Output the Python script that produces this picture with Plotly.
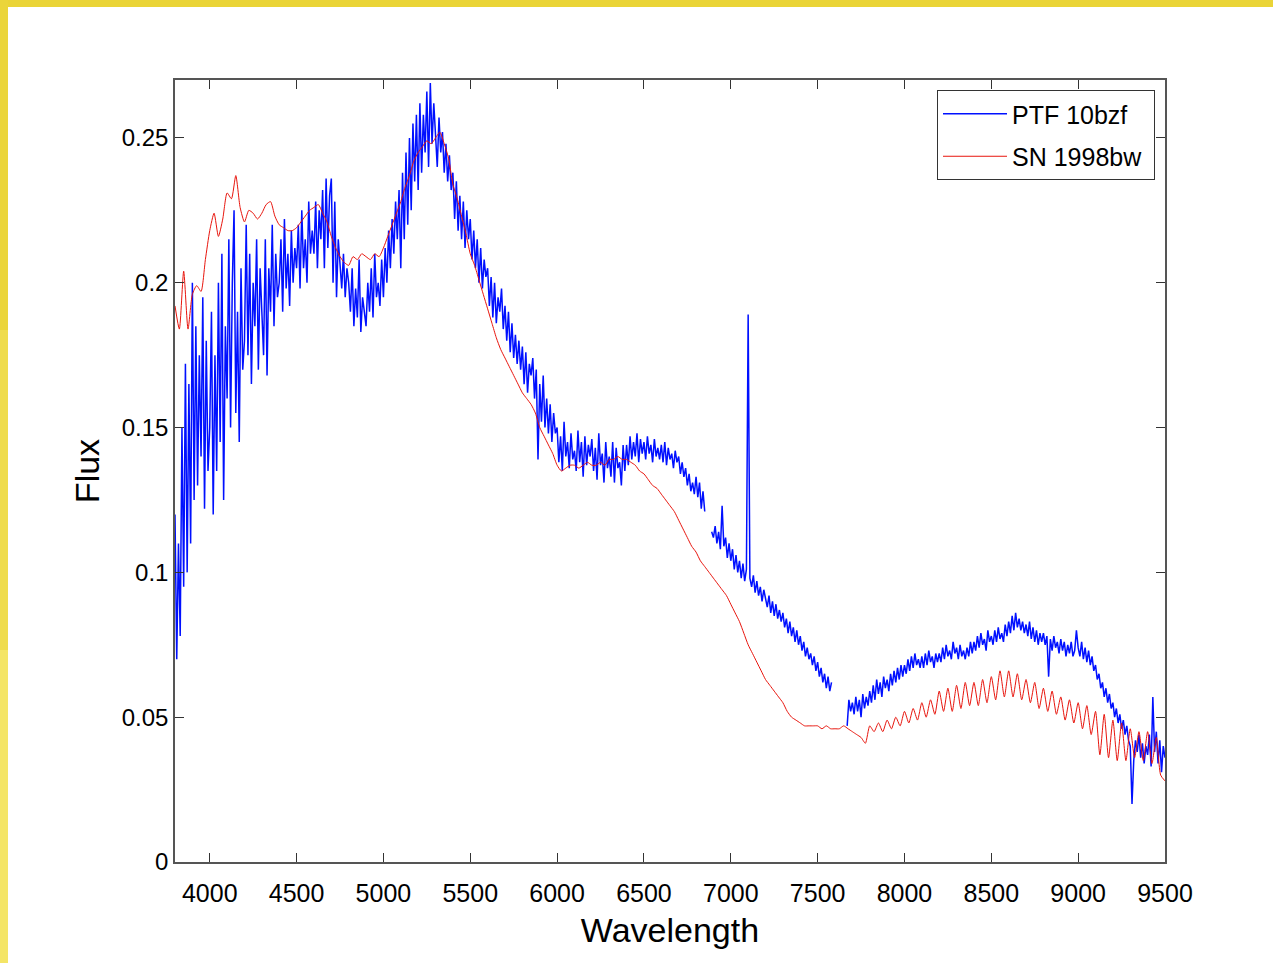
import numpy as np
import plotly.graph_objects as go

# ---------------- data (flux in units of 1e-3) ----------------
# PTF 10bzf, sampled every 10 A from 3800 to 9500 (one row = 100 A)
ptf_rows = [
    [120, 70, 110, 78, 150, 95, 172, 100, 165, 110],      # 3800
    [200, 125, 185, 130, 175, 140, 195, 122, 180, 135],   # 3900
    [150, 190, 120, 175, 135, 200, 145, 210, 125, 185],   # 4000
    [160, 215, 150, 200, 225, 155, 190, 145, 205, 170],   # 4100
    [180, 220, 175, 210, 165, 200, 185, 215, 170, 205],   # 4200
    [190, 175, 215, 168, 205, 190, 220, 185, 210, 195],   # 4300
    [200, 215, 190, 222, 198, 210, 192, 218, 200, 212],   # 4400
    [205, 220, 198, 225, 205, 215, 200, 228, 210, 218],   # 4500
    [210, 228, 205, 225, 215, 232, 205, 236, 212, 230],   # 4600
    [236, 200, 228, 195, 215, 205, 198, 210, 195, 205],   # 4700
    [200, 190, 205, 185, 198, 188, 208, 183, 195, 190],   # 4800
    [185, 200, 190, 205, 188, 210, 195, 200, 192, 208],   # 4900
    [195, 212, 200, 218, 205, 222, 210, 228, 215, 232],   # 5000
    [205, 238, 215, 245, 220, 250, 225, 255, 235, 258],   # 5100
    [232, 262, 238, 258, 245, 266, 240, 269, 248, 262],   # 5200
    [250, 240, 257, 245, 252, 238, 248, 235, 244, 232],   # 5300
    [238, 222, 235, 218, 230, 215, 228, 212, 225, 215],   # 5400
    [222, 208, 218, 205, 215, 200, 212, 198, 208, 202],   # 5500
    [205, 192, 202, 188, 200, 186, 195, 190, 198, 184],   # 5600
    [192, 180, 190, 176, 186, 174, 182, 172, 180, 170],   # 5700
    [178, 165, 176, 162, 172, 168, 174, 160, 170, 139],   # 5800
    [165, 152, 168, 150, 160, 148, 158, 145, 155, 148],   # 5900
    [150, 138, 147, 135, 152, 140, 145, 136, 148, 139],   # 6000
    [142, 135, 149, 138, 145, 133, 147, 137, 144, 140],   # 6100
    [146, 135, 143, 132, 148, 137, 141, 131, 145, 136],   # 6200
    [140, 133, 145, 131, 143, 136, 138, 130, 144, 135],   # 6300
    [144, 137, 147, 139, 145, 140, 148, 138, 146, 141],   # 6400
    [145, 139, 147, 141, 144, 138, 146, 140, 143, 139],   # 6500
    [144, 138, 145, 137, 143, 139, 141, 136, 142, 138],   # 6600
    [140, 134, 138, 133, 136, 130, 134, 128, 131, 127],   # 6700
    [133, 126, 131, 122, 128, 121, None, None, None, 114],  # 6800
    [112, 116, 110, 114, 108, 123, 109, 112, 105, 110],   # 6900
    [104, 108, 101, 106, 100, 104, 98, 103, 97, 101],     # 7000
    [189, 98, 95, 99, 93, 97, 92, 95, 90, 94],            # 7100
    [91, 88, 92, 86, 90, 85, 89, 84, 87, 83],             # 7200
    [86, 81, 84, 79, 83, 78, 81, 76, 80, 75],             # 7300
    [78, 73, 76, 71, 74, 70, 72, 68, 71, 66],             # 7400
    [69, 64, 67, 62, 65, 60, 64, 59, 62, None],           # 7500
    [None, None, None, None, None, None, None, 47, 56, 52],  # 7600
    [55, 51, 57, 52, 56, 50, 58, 53, 57, 54],             # 7700
    [59, 55, 61, 56, 63, 58, 62, 57, 64, 60],             # 7800
    [63, 59, 65, 61, 66, 62, 67, 63, 68, 64],             # 7900
    [68, 65, 70, 66, 71, 67, 72, 68, 70, 67],             # 8000
    [71, 67, 72, 68, 73, 69, 71, 67, 72, 69],             # 8100
    [72, 69, 74, 70, 75, 71, 73, 70, 76, 72],             # 8200
    [74, 70, 75, 71, 73, 70, 74, 71, 76, 72],             # 8300
    [76, 73, 78, 74, 79, 75, 77, 73, 80, 76],             # 8400
    [78, 75, 80, 76, 81, 77, 79, 76, 82, 78],             # 8500
    [83, 79, 85, 80, 86, 81, 84, 80, 83, 79],             # 8600
    [82, 78, 83, 77, 81, 76, 80, 75, 79, 76],             # 8700
    [79, 75, 78, 64, 77, 73, 78, 74, 76, 72],             # 8800
    [77, 73, 76, 71, 75, 72, 76, 71, 73, 80],             # 8900
    [74, 71, 76, 70, 74, 69, 73, 68, 71, 66],             # 9000
    [68, 63, 65, 60, 62, 57, 60, 55, 58, 53],             # 9100
    [55, 50, 53, 48, 51, 46, 49, 44, 47, 42],             # 9200
    [40, 20, 35, 42, 38, 44, 36, 41, 34, 40],             # 9300
    [37, 44, 33, 57, 38, 45, 34, 42, 31, 40],             # 9400
    [36],                                                 # 9500
]

# SN 1998bw, sampled every 25 A from 3800 to 9500 (one row = 100 A)
sn_rows = [
    [192, 184, 204, 184],  # 3800
    [196, 199, 197, 208],  # 3900
    [218, 224, 216, 222],  # 4000
    [231, 229, 237, 226],  # 4100
    [221, 225, 224, 222],  # 4200
    [224, 227, 228, 223],  # 4300
    [220, 219, 218, 218],  # 4400
    [219, 221, 223, 225],  # 4500
    [226, 227, 224, 221],  # 4600
    [216, 212, 209, 207],  # 4700
    [206, 209, 208, 210],  # 4800
    [209, 208, 210, 209],  # 4900
    [212, 216, 220, 224],  # 5000
    [228, 233, 237, 242],  # 5100
    [245, 247, 249, 248],  # 5200
    [250, 252, 248, 243],  # 5300
    [234, 229, 223, 217],  # 5400
    [210, 206, 201, 196],  # 5500
    [191, 186, 181, 177],  # 5600
    [174, 171, 168, 165],  # 5700
    [162, 160, 158, 155],  # 5800
    [150, 147, 144, 141],  # 5900
    [137, 135, 136, 137],  # 6000
    [137, 136, 137, 138],  # 6100
    [137, 137, 138, 137],  # 6200
    [139, 139, 140, 139],  # 6300
    [139, 138, 137, 135],  # 6400
    [134, 132, 130, 129],  # 6500
    [127, 125, 123, 121],  # 6600
    [118, 115, 112, 109],  # 6700
    [107, 104, 102, 100],  # 6800
    [98, 96, 94, 92],      # 6900
    [89, 86, 83, 79],      # 7000
    [75, 72, 69, 66],      # 7100
    [63, 61, 59, 57],      # 7200
    [55, 52, 50, 49],      # 7300
    [48, 47, 47, 47],      # 7400
    [47, 46, 47, 46],      # 7500
    [46, 46, 47, 46],      # 7600
    [45, 44, 43, 41],      # 7700
    [47, 45, 48, 45],      # 7800
    [49, 46, 50, 47],      # 7900
    [52, 48, 53, 49],      # 8000
    [55, 50, 56, 51],      # 8100
    [59, 52, 60, 52],      # 8200
    [61, 53, 62, 54],      # 8300
    [62, 54, 63, 55],      # 8400
    [64, 56, 66, 57],      # 8500
    [66, 57, 65, 56],      # 8600
    [63, 55, 62, 53],      # 8700
    [60, 52, 59, 51],      # 8800
    [57, 49, 56, 48],      # 8900
    [55, 46, 54, 44],      # 9000
    [52, 37, 51, 36],      # 9100
    [49, 35, 48, 35],      # 9200
    [46, 36, 45, 35],      # 9300
    [45, 34, 43, 30],      # 9400
    [28],                  # 9500
]

x_ticks = [4000, 4500, 5000, 5500, 6000, 6500, 7000, 7500, 8000, 8500, 9000, 9500]
y_ticks = [0, 0.05, 0.1, 0.15, 0.2, 0.25]
y_tick_text = ["0", "0.05", "0.1", "0.15", "0.2", "0.25"]

ptf_wave = np.arange(3800, 9501, 10)
sn_wave = np.arange(3800, 9501, 25)
ptf_flux = [None if v is None else v / 1000 for row in ptf_rows for v in row]
sn_flux = [v / 1000 for row in sn_rows for v in row]
assert len(ptf_flux) == len(ptf_wave), (len(ptf_flux), len(ptf_wave))
assert len(sn_flux) == len(sn_wave), (len(sn_flux), len(sn_wave))

# ---------------- figure ----------------
W, H = 1273, 963
L, R, T, B = 175, 108, 80, 101
pw, ph = W - L - R, H - T - B


def px(x):
    return (x - L) / pw


def py(y):
    return (H - B - y) / ph


FONT = "Liberation Sans, Arial, Helvetica, sans-serif"

fig = go.Figure()
fig.add_trace(go.Scatter(x=ptf_wave, y=ptf_flux, mode="lines", name="PTF 10bzf ",
                         legendgroup="ptf",
                         line=dict(color="#0010ff", width=1.5)))
fig.add_trace(go.Scatter(x=sn_wave, y=sn_flux, mode="lines", name="SN 1998bw ",
                         legendgroup="sn",
                         line=dict(color="#e8140c", width=1, shape="spline", smoothing=0.6)))

shapes = [
    dict(type="rect", xref="paper", yref="paper", x0=px(0), x1=px(W), y0=py(7), y1=py(0),
         fillcolor="#ead437", line_width=0, layer="below"),
    dict(type="rect", xref="paper", yref="paper", x0=px(0), x1=px(8), y0=py(330), y1=py(0),
         fillcolor="#ebd53a", line_width=0, layer="below"),
    dict(type="rect", xref="paper", yref="paper", x0=px(0), x1=px(8), y0=py(650), y1=py(330),
         fillcolor="#efdc4c", line_width=0, layer="below"),
    dict(type="rect", xref="paper", yref="paper", x0=px(0), x1=px(8), y0=py(H), y1=py(650),
         fillcolor="#f4e566", line_width=0, layer="below"),
]

fig.update_layout(
    width=W, height=H, autosize=False,
    margin=dict(l=L, r=R, t=T, b=B, pad=0),
    paper_bgcolor="white", plot_bgcolor="white",
    font=dict(family=FONT, size=24, color="black"),
    showlegend=True,
    legend=dict(x=px(1155), y=py(90), xanchor="right", yanchor="top",
                bgcolor="white", bordercolor="#333333", borderwidth=1,
                font=dict(size=25, family=FONT), itemwidth=64,
                tracegroupgap=7),
    shapes=shapes,
    xaxis=dict(range=[3800, 9500], tickvals=x_ticks, ticks="inside", ticklen=9,
               tickcolor="#333333", showline=True, linecolor="#555555", linewidth=1.5,
               mirror="ticks", showgrid=False, zeroline=False,
               ticklabelstandoff=8,
               tickfont=dict(size=25, family=FONT),
               title=dict(text="Wavelength", font=dict(size=34, family=FONT), standoff=12)),
    yaxis=dict(range=[0, 0.27], tickvals=y_ticks, ticktext=y_tick_text, ticks="inside",
               ticklen=9, tickcolor="#333333", showline=True, linecolor="#555555",
               linewidth=1.5, mirror="ticks", showgrid=False, zeroline=False,
               tickfont=dict(size=24, family=FONT),
               title=dict(text="Flux", font=dict(size=34, family=FONT), standoff=12)),
)

fig.write_html("out.html")
